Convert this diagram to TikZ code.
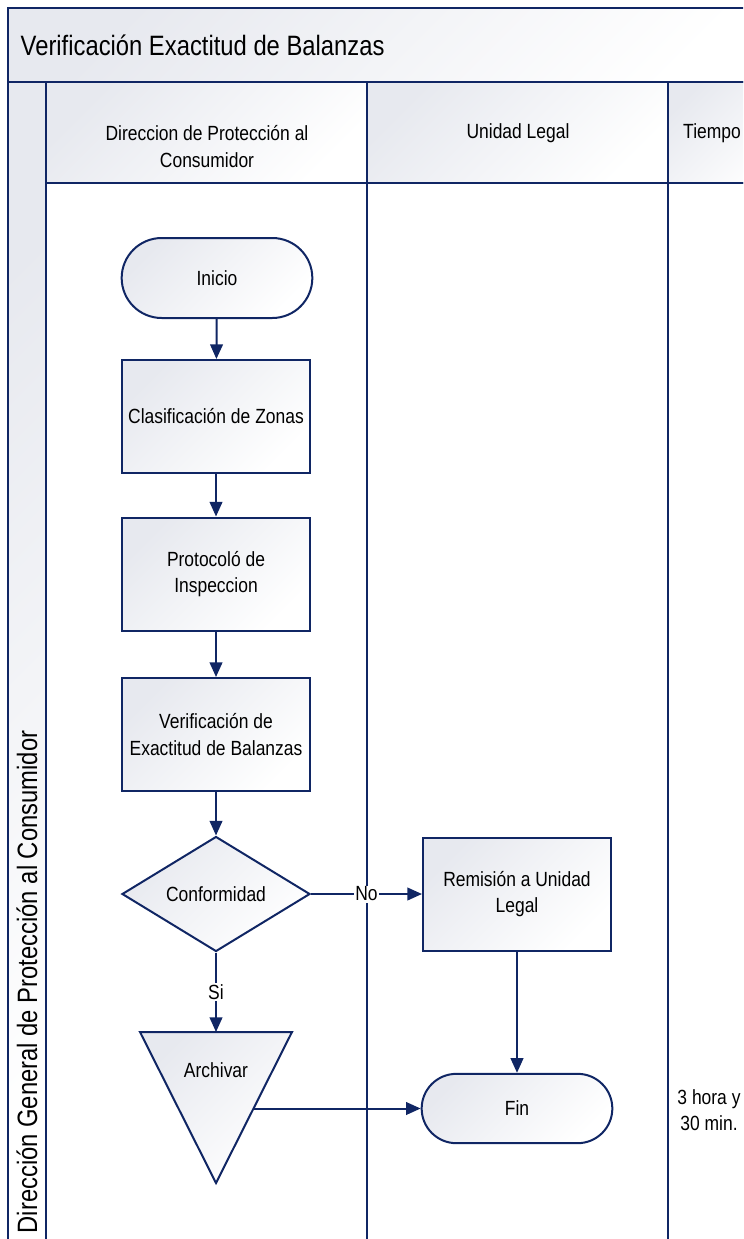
\documentclass[tikz,border=0pt]{standalone}
\usepackage{fontspec}
\setmainfont{Liberation Sans}[FakeStretch=0.85]
\usetikzlibrary{shapes.geometric,arrows.meta}

\definecolor{laneblue}{RGB}{16,38,100}
\definecolor{shadegray}{RGB}{231,233,239}

\begin{document}
\begin{tikzpicture}[x=0.75pt,y=-0.75pt,
		font=\fontsize{15.4pt}{20pt}\selectfont,
		lane/.style={draw=laneblue, line width=1.5pt},
		band/.style={lane, top color=shadegray, bottom color=white, shading angle=45},
		process/.style={band, rectangle, minimum width=141pt, minimum height=84.75pt, align=center},
		terminal/.style={band, rectangle, minimum width=143pt},
		decision/.style={band, diamond, minimum width=141pt, minimum height=84pt, inner sep=0pt},
		flow/.style={laneblue, line width=1.5pt, -{Triangle[length=11pt,width=9.5pt]}},
		flowlabel/.style={fill=white, text=black, inner sep=1pt}]
		\useasboundingbox (0,0) rectangle (743,1239);
		\begin{scope}
			\clip (0,0) rectangle (743,1239);
			%pool and lanes
			\path[band] (8,8) rectangle (790,82);
			\path[band] (8,82) rectangle (46,1290);
			\path[band] (46,82) rectangle (367,183);
			\path[band] (367,82) rectangle (668,183);
			\path[band] (668,82) rectangle (790,183);
			\draw[lane] (46,183) rectangle (367,1290);
			\draw[lane] (367,183) rectangle (668,1290);
			\draw[lane] (668,183) rectangle (790,1290);
		\end{scope}
		%headers
		\node[anchor=west, font=\fontsize{21pt}{25pt}\selectfont] (title) at (16,45) {Verificación Exactitud de Balanzas};
		\node[rotate=90, font=\fontsize{21pt}{25pt}\selectfont] (pool) at (27,982) {Dirección General de Protección al Consumidor};
		\node[align=center] (colA) at (207,146.5) {Direccion de Protección al\\Consumidor};
		\node (colB) at (518,133) {Unidad Legal};
		\node (colC) at (712,133) {Tiempo};
		%steps
		\node[terminal, minimum height=60pt, rounded corners=30pt] (inicio) at (217,278) {Inicio};
		\node[process] (clasif) at (216,416.5) {Clasificación de Zonas};
		\node[process] (protocolo) at (216,574) {Protocoló de\\Inspeccion};
		\node[process] (verif) at (216,734.5) {Verificación de\\Exactitud de Balanzas};
		\node[decision] (conf) at (216,894) {Conformidad};
		\node[process] (remision) at (517,894) {Remisión a Unidad\\Legal};
		\node[terminal, minimum height=52pt, rounded corners=26pt] (fin) at (517,1108.5) {Fin};
		%archive
		\path[band] (140,1032) -- (292,1032) -- (216,1183) -- cycle;
		\node (archivar) at (216,1070) {Archivar};
		\coordinate (archtop) at (216,1032);
		\coordinate (archout) at (254,1108.5);
		%time
		\node[align=center] (tiempo) at (709,1110) {3 hora y\\30 min.};
		%flow
		\draw[flow] (inicio) -- (clasif);
		\draw[flow] (clasif) -- (protocolo);
		\draw[flow] (protocolo) -- (verif);
		\draw[flow] (verif) -- (conf);
		\draw[flow] (conf) -- node[flowlabel] (no) {No} (remision);
		\draw[flow] (conf) -- node[flowlabel] (si) {Si} (archtop);
		\draw[flow] (remision) -- (fin);
		\draw[flow] (archout) -- (fin.west);
	\end{tikzpicture}
\end{document}
